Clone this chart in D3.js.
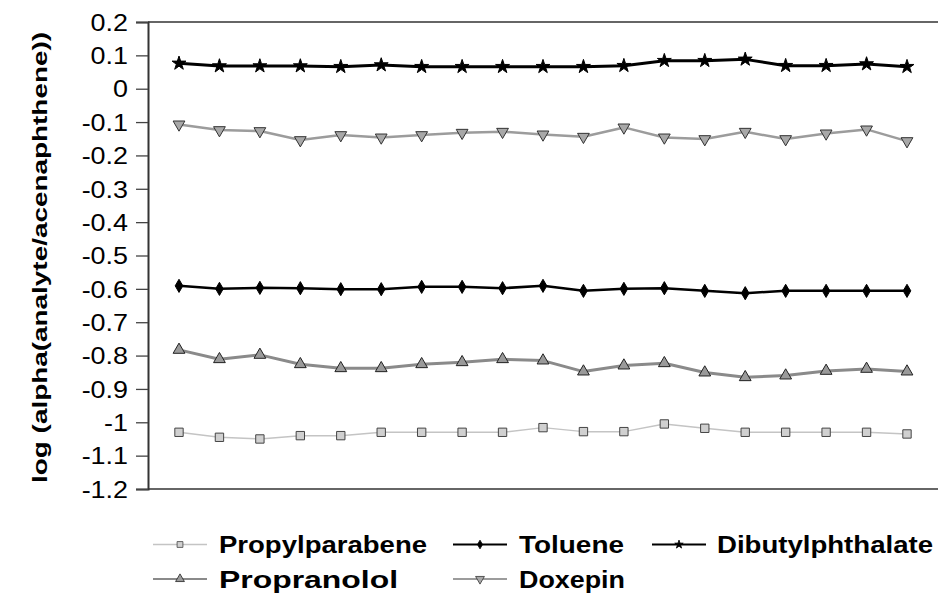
<!DOCTYPE html>
<html>
<head>
<meta charset="utf-8">
<script src="https://cdn.jsdelivr.net/npm/d3@7"></script>
<style>
  body { margin: 0; background: #fff; }
  svg { display: block; font-family: "Liberation Sans", Arial, sans-serif; }
</style>
</head>
<body>
<div class="chart"></div>
<script>
// runs along the x axis (no labels in the original)
const runs = d3.range(1, 20);

const propylparabene = [-1.030, -1.045, -1.050, -1.040, -1.040, -1.030, -1.030, -1.030, -1.030, -1.016,
  -1.028, -1.028, -1.005, -1.018, -1.030, -1.030, -1.030, -1.030, -1.035];
const toluene = [-0.591, -0.600, -0.597, -0.598, -0.601, -0.601, -0.594, -0.594, -0.598, -0.591,
  -0.606, -0.600, -0.598, -0.606, -0.613, -0.606, -0.606, -0.606, -0.606];
const dibutylphthalate = [0.076, 0.068, 0.068, 0.068, 0.066, 0.071, 0.066, 0.066, 0.066, 0.066,
  0.066, 0.069, 0.084, 0.084, 0.088, 0.069, 0.069, 0.074, 0.066];
const propranolol = [-0.783, -0.811, -0.798, -0.826, -0.838, -0.838, -0.826, -0.820, -0.811, -0.815,
  -0.848, -0.830, -0.823, -0.851, -0.865, -0.860, -0.846, -0.840, -0.848];
const doxepin = [-0.107, -0.124, -0.127, -0.154, -0.139, -0.146, -0.139, -0.132, -0.129, -0.137,
  -0.144, -0.116, -0.146, -0.151, -0.129, -0.151, -0.134, -0.122, -0.157];

const yTicks = [0.2, 0.1, 0, -0.1, -0.2, -0.3, -0.4, -0.5, -0.6, -0.7, -0.8, -0.9, -1, -1.1, -1.2];
const yTickLabels = ["0.2", "0.1", "0", "-0.1", "-0.2", "-0.3", "-0.4", "-0.5", "-0.6", "-0.7",
  "-0.8", "-0.9", "-1", "-1.1", "-1.2"];
const yTitle = "log (alpha(analyte/acenaphthene))";

const series = [
  { name: "Propylparabene", vals: propylparabene, color: "#c4c4c4", width: 1.5,
    symbol: d3.symbolSquare, size: 70, fill: "#d0d0d0", edge: "#444", rot: 0, lsize: 34 },
  { name: "Toluene", vals: toluene, color: "#000", width: 2.5,
    symbol: d3.symbolDiamond, size: 50, fill: "#000", edge: "#000", rot: 0, lsize: 22 },
  { name: "Dibutylphthalate", vals: dibutylphthalate, color: "#000", width: 3,
    symbol: d3.symbolStar, size: 60, fill: "#000", edge: "#000", rot: 0, lsize: 22 },
  { name: "Propranolol", vals: propranolol, color: "#8a8a8a", width: 3,
    symbol: d3.symbolTriangle, size: 60, fill: "#9a9a9a", edge: "#222", rot: 0, lsize: 34 },
  { name: "Doxepin", vals: doxepin, color: "#9c9c9c", width: 2.5,
    symbol: d3.symbolTriangle, size: 60, fill: "#a8a8a8", edge: "#333", rot: 180, lsize: 34 }
];

const W = 938, H = 598;
const plotLeft = 148, plotRight = 938, plotTop = 22, plotBottom = 489;

const svg = d3.select(".chart")
  .append("svg")
  .attr("width", W)
  .attr("height", H);

const x = d3.scalePoint()
  .domain(runs)
  .range([179, 907]);

const y = d3.scaleLinear()
  .domain([-1.2, 0.2])
  .range([plotBottom, plotTop]);

const stretch = (sel, k) => sel.each(function () {
  const len = this.getComputedTextLength();
  d3.select(this).attr("textLength", len * k).attr("lengthAdjust", "spacingAndGlyphs");
});

// top border and bottom line of the plot
svg.append("line")
  .attr("x1", plotLeft).attr("x2", plotRight)
  .attr("y1", plotTop).attr("y2", plotTop)
  .attr("stroke", "#333").attr("stroke-width", 1.5);
svg.append("line")
  .attr("x1", plotLeft).attr("x2", plotRight)
  .attr("y1", plotBottom).attr("y2", plotBottom)
  .attr("stroke", "#333").attr("stroke-width", 1.5);

const yAxis = svg.append("g")
  .attr("transform", `translate(${plotLeft},0)`)
  .call(d3.axisLeft(y)
    .tickValues(yTicks)
    .tickFormat((d, i) => yTickLabels[i])
    .tickSize(12)
    .tickPadding(8));

yAxis.select(".domain").attr("stroke", "#333").attr("stroke-width", 2);
yAxis.selectAll(".tick line").attr("stroke", "#444").attr("stroke-width", 1.3);
yAxis.selectAll(".tick text")
  .attr("font-size", 23)
  .attr("fill", "#000")
  .attr("dy", "0.36em")
  .call(stretch, 1.17);

svg.append("text")
  .attr("transform", `translate(47,${(32 + 483) / 2}) rotate(-90)`)
  .attr("text-anchor", "middle")
  .attr("font-size", 21)
  .attr("font-weight", "bold")
  .text(yTitle)
  .attr("textLength", 451)
  .attr("lengthAdjust", "spacingAndGlyphs");

const line = d3.line()
  .x((d, i) => x(runs[i]))
  .y(d => y(d));

const plot = svg.append("g");

series.forEach(s => {
  plot.append("path")
    .datum(s.vals)
    .attr("d", line)
    .attr("fill", "none")
    .attr("stroke", s.color)
    .attr("stroke-width", s.width)
    .attr("stroke-linejoin", "round");

  plot.selectAll(null)
    .data(s.vals)
    .enter()
    .append("path")
    .attr("d", d3.symbol().type(s.symbol).size(s.size))
    .attr("transform", (d, i) => `translate(${x(runs[i])},${y(d)}) rotate(${s.rot})`)
    .attr("fill", s.fill)
    .attr("stroke", s.edge)
    .attr("stroke-width", 1);
});

// legend
const legendPos = [
  { lx: 153, ly: 544.5, tx: 219, tw: 208 },
  { lx: 453, ly: 544.5, tx: 519, tw: 105 },
  { lx: 652, ly: 544.5, tx: 717, tw: 216 },
  { lx: 153, ly: 579, tx: 219, tw: 179 },
  { lx: 453, ly: 579, tx: 519, tw: 106 }
];

const legend = svg.append("g");

series.forEach((s, i) => {
  const p = legendPos[i];
  const g = legend.append("g");
  g.append("line")
    .attr("x1", p.lx).attr("x2", p.lx + 54)
    .attr("y1", p.ly).attr("y2", p.ly)
    .attr("stroke", s.color)
    .attr("stroke-width", Math.min(s.width, 2));
  g.append("path")
    .attr("d", d3.symbol().type(s.symbol).size(s.lsize))
    .attr("transform", `translate(${p.lx + 27},${p.ly}) rotate(${s.rot})`)
    .attr("fill", s.fill)
    .attr("stroke", s.edge)
    .attr("stroke-width", 0.8);
  g.append("text")
    .attr("x", p.tx)
    .attr("y", p.ly + 8.5)
    .attr("font-size", 23)
    .attr("font-weight", "bold")
    .text(s.name)
    .attr("textLength", p.tw)
    .attr("lengthAdjust", "spacingAndGlyphs");
});
</script>
</body>
</html>
